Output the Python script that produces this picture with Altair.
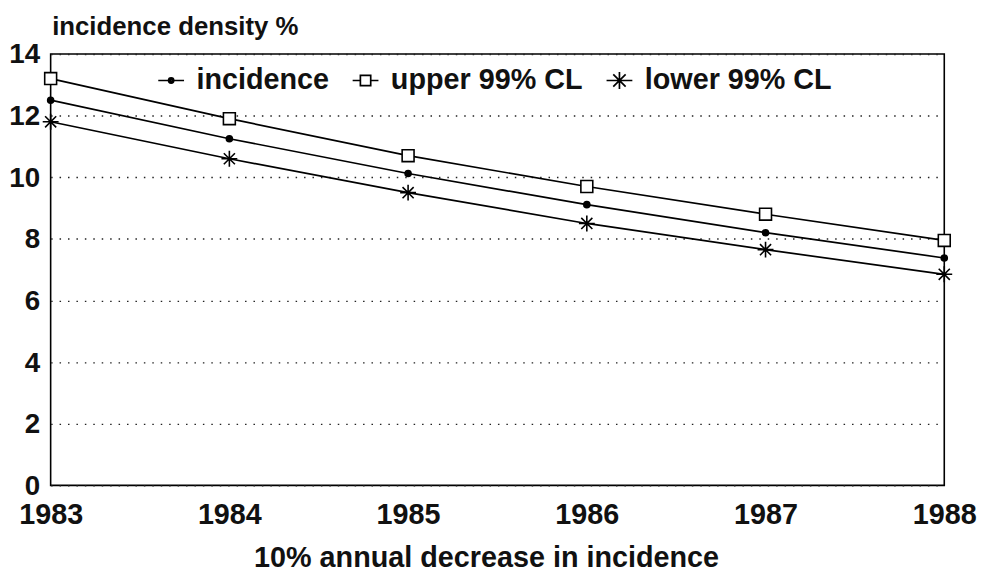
import altair as alt
import pandas as pd

years = [1983, 1984, 1985, 1986, 1987, 1988]
incidence = [12.5, 11.25, 10.12, 9.11, 8.2, 7.38]
upper = [13.2, 11.9, 10.7, 9.7, 8.8, 7.95]
lower = [11.8, 10.6, 9.5, 8.5, 7.65, 6.85]
series_names = ["incidence", "upper 99% CL", "lower 99% CL"]
y_ticks = [0, 2, 4, 6, 8, 10, 12, 14]

rows = []
for name, vals in zip(series_names, [incidence, upper, lower]):
    for yr, v in zip(years, vals):
        rows.append({"year": yr, "value": v, "series": name})
df = pd.DataFrame(rows)

FONT = "Liberation Sans, Arial, Helvetica, sans-serif"

pt_shapes = [
    "M-0.38,0A0.38,0.38 0 1,0 0.38,0A0.38,0.38 0 1,0 -0.38,0Z",
    "M-0.75,-0.75L0.75,-0.75L0.75,0.75L-0.75,0.75Z",
    "M-1,0L1,0M0,-1L0,1M-0.7,-0.7L0.7,0.7M-0.7,0.7L0.7,-0.7",
]
lg_shapes = [
    "M-1,0L-0.22,0M0.22,0L1,0M-0.2,0A0.2,0.2 0 1,0 0.2,0A0.2,0.2 0 1,0 -0.2,0ZM-0.08,0A0.08,0.08 0 1,0 0.08,0A0.08,0.08 0 1,0 -0.08,0Z",
    "M-1,0L-0.4,0M0.4,0L1,0M-0.4,-0.4L0.4,-0.4L0.4,0.4L-0.4,0.4Z",
    "M-1,0L1,0M0,-0.65L0,0.65M-0.48,-0.48L0.48,0.48M-0.48,0.48L0.48,-0.48",
]

x_enc = alt.X(
    "year:Q",
    scale=alt.Scale(domain=[1983, 1988], nice=False, zero=False),
    axis=alt.Axis(
        values=years, format="d", grid=False, ticks=False, domain=False,
        labelFont=FONT, labelFontSize=29, labelFontWeight="bold", labelColor="#111",
        labelPadding=15, labelFlush=False,
        title="10% annual decrease in incidence",
        titleFont=FONT, titleFontSize=29, titleFontWeight="bold", titleColor="#111",
        titleX=439, titleY=82, titleBaseline="alphabetic", titleAlign="center",
    ),
)
y_enc = alt.Y(
    "value:Q",
    scale=alt.Scale(domain=[0, 14], nice=False),
    axis=alt.Axis(
        values=y_ticks, grid=True, ticks=False, domain=False,
        gridDash=[1.5, 7], gridColor="#222", gridWidth=1.4,
        labelFont=FONT, labelFontSize=28, labelFontWeight="bold", labelColor="#111",
        labelPadding=11, labelOffset=1, labelFlush=False,
        title="incidence density %",
        titleFont=FONT, titleFontSize=26, titleFontWeight="bold", titleColor="#111",
        titleAngle=0, titleAlign="left", titleBaseline="alphabetic",
        titleX=1, titleY=-20,
    ),
)

lines = alt.Chart(df).mark_line(color="black", strokeWidth=1.7).encode(
    x=x_enc, y=y_enc, detail="series:N"
)

legend_layer = alt.Chart(df).mark_point(
    filled=False, size=676, stroke="black", strokeWidth=1.7, opacity=0
).encode(
    x=x_enc,
    y=y_enc,
    shape=alt.Shape(
        "series:N",
        scale=alt.Scale(domain=series_names, range=lg_shapes),
        legend=alt.Legend(
            title=None, orient="none", direction="horizontal",
            legendX=107, legendY=12, padding=0,
            symbolSize=676, symbolStrokeWidth=1.7, symbolOpacity=1,
            symbolStrokeColor="black", symbolFillColor="white",
            labelFont=FONT, labelFontSize=29, labelFontWeight="bold", labelColor="#111",
            labelLimit=400, labelOffset=11, columnPadding=20,
        ),
    ),
)

points = alt.Chart(df).mark_point(
    filled=False, size=256, stroke="black", strokeWidth=1.6, opacity=1
).encode(
    x=x_enc,
    y=y_enc,
    shape=alt.Shape(
        "series:N",
        scale=alt.Scale(domain=series_names, range=pt_shapes),
        legend=None,
    ),
    fill=alt.Fill(
        "series:N",
        scale=alt.Scale(domain=series_names, range=["black", "white", "transparent"]),
        legend=None,
    ),
)

chart = (
    alt.layer(lines, legend_layer, points)
    .resolve_scale(shape="independent")
    .properties(
        width=901, height=435,
        autosize=alt.AutoSizeParams(type="none"),
        padding={"left": 43, "top": 44, "right": 33, "bottom": 89},
        background="white",
    )
    .configure_view(stroke="black", strokeWidth=1.6)
)

chart.save("out.html", embed_options={"renderer": "svg", "actions": False})
